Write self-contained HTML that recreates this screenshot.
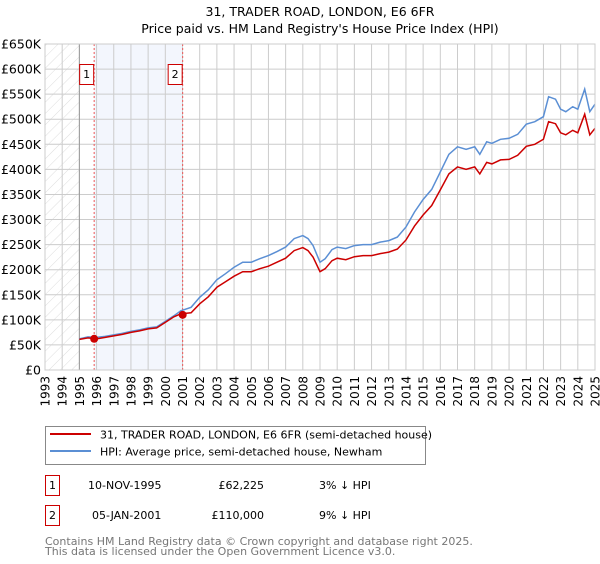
<!DOCTYPE html>
<html><head><meta charset="utf-8"><style>
body{margin:0;background:#fff;width:600px;height:560px;overflow:hidden;font-family:"DejaVu Sans","Liberation Sans",sans-serif}
svg text{font-family:"DejaVu Sans","Liberation Sans",sans-serif}
</style></head><body>
<svg id="c" width="600" height="560" viewBox="0 0 600 560">
<defs><pattern id="hatch" width="8" height="8" patternUnits="userSpaceOnUse" patternTransform="rotate(45)"><line x1="0" y1="0" x2="0" y2="8" stroke="#ddd" stroke-width="1"/></pattern></defs>
<text x="320" y="16" text-anchor="middle" font-size="12.5">31, TRADER ROAD, LONDON, E6 6FR</text>
<text x="320" y="33" text-anchor="middle" font-size="12.5">Price paid vs. HM Land Registry's House Price Index (HPI)</text>
<g id="plot"></g>
<g>
<rect x="45.5" y="426.5" width="380" height="38" fill="#fff" stroke="#888"/>
<line x1="50" y1="434" x2="91" y2="434" stroke="#cc0000" stroke-width="2"/>
<text x="100" y="438.5" font-size="11">31, TRADER ROAD, LONDON, E6 6FR (semi-detached house)</text>
<line x1="50" y1="451" x2="91" y2="451" stroke="#5b8fd4" stroke-width="2"/>
<text x="100" y="455.5" font-size="11">HPI: Average price, semi-detached house, Newham</text>
</g>
<g font-size="11">
<rect x="45.5" y="475.5" width="14" height="20" fill="#fff" stroke="#cc0000"/><text x="52.5" y="489" text-anchor="middle">1</text>
<text x="88" y="489">10-NOV-1995</text><text x="264" y="489" text-anchor="end">£62,225</text><text x="319" y="489">3% ↓ HPI</text>
<rect x="45.5" y="505.5" width="14" height="20" fill="#fff" stroke="#cc0000"/><text x="52.5" y="519" text-anchor="middle">2</text>
<text x="92" y="519">05-JAN-2001</text><text x="264" y="519" text-anchor="end">£110,000</text><text x="319" y="519">9% ↓ HPI</text>
</g>
<text x="45" y="545" font-size="11" fill="#777">Contains HM Land Registry data © Crown copyright and database right 2025.</text>
<text x="45" y="555" font-size="11" fill="#777">This data is licensed under the Open Government Licence v3.0.</text>
</svg>
<script>
const hpiYears=[1995,1995.5,1996,1996.5,1997,1997.5,1998,1998.5,1999,1999.5,2000,2000.5,2000.9,2001.5,2002,2002.5,2003,2003.5,2004,2004.5,2005,2005.5,2006,2006.5,2007,2007.5,2008,2008.3,2008.6,2009,2009.3,2009.7,2010,2010.5,2011,2011.5,2012,2012.5,2013,2013.5,2014,2014.5,2015,2015.5,2016,2016.5,2017,2017.5,2018,2018.3,2018.7,2019,2019.5,2020,2020.5,2021,2021.5,2022,2022.3,2022.7,2023,2023.3,2023.7,2024,2024.4,2024.7,2025];
const hpiValues=[62,66,65,67,70,73,77,80,84,86,97,108,118,125,145,160,180,192,205,215,215,222,228,236,245,262,268,262,248,215,222,240,245,242,248,250,250,255,258,265,285,315,340,360,395,430,445,440,445,430,455,452,460,462,470,490,495,505,545,540,520,515,525,520,560,515,530];
const priceValues=[61,64,62,65,68,71,75,78,82,84,95,106,112,114,132,146,165,176,187,196,196,202,207,215,223,238,244,238,225,196,202,218,223,220,226,228,228,232,235,241,259,287,309,328,359,391,405,400,405,391,414,411,419,420,428,446,450,460,495,491,473,469,478,473,510,469,482];
const salesYears=[1995.86,2001.01];
const salesValues=[62.225,110];
const yTicks=[0,50,100,150,200,250,300,350,400,450,500,550,600,650];
const yTickLabels=["£0","£50K","£100K","£150K","£200K","£250K","£300K","£350K","£400K","£450K","£500K","£550K","£600K","£650K"];
const xTicks=[1993,1994,1995,1996,1997,1998,1999,2000,2001,2002,2003,2004,2005,2006,2007,2008,2009,2010,2011,2012,2013,2014,2015,2016,2017,2018,2019,2020,2021,2022,2023,2024,2025];

const X0=45,X1=595,Y0=370,Y1=44;
const xs=v=>X0+(v-1993)/(2025-1993)*(X1-X0);
const ys=v=>Y0-v/650*(Y0-Y1);
const NS="http://www.w3.org/2000/svg";
const g=document.getElementById('plot');
function mk(t,a,p){const e=document.createElementNS(NS,t);for(const k in a)e.setAttribute(k,a[k]);(p||g).appendChild(e);return e;}
let e;
e=mk('rect',{x:X0,y:Y1,width:xs(1995)-X0,height:Y0-Y1,fill:'url(#hatch)'});


e=mk('rect',{x:xs(salesYears[0]),y:Y1,width:xs(salesYears[1])-xs(salesYears[0]),height:Y0-Y1,fill:'#f3f6fd'});


xTicks.forEach(t=>{
 e=mk('line',{x1:xs(t),y1:Y1,x2:xs(t),y2:Y0,stroke:'#ccc'});
 
 
 e=mk('text',{x:0,y:0,'font-size':12,'text-anchor':'end',transform:`translate(${xs(t)+4.5},${Y0+6}) rotate(-90)`});
 e.textContent=t;
 
 
});
yTicks.forEach((t,i)=>{
 e=mk('line',{x1:X0,y1:ys(t),x2:X1,y2:ys(t),stroke:'#ccc'});
 
 
 e=mk('text',{x:X0-4,y:ys(t)+4.5,'font-size':12.5,'text-anchor':'end'});
 e.textContent=yTickLabels[i];
 
 
});
e=mk('line',{x1:xs(1995),y1:Y1,x2:xs(1995),y2:Y0,stroke:'#999'});


salesYears.forEach((s,i)=>{
 e=mk('line',{x1:xs(s),y1:Y1,x2:xs(s),y2:Y0,stroke:'#ee5555','stroke-dasharray':'2,2'});
 
 
});
e=mk('path',{d:hpiYears.map((y,i)=>(i?'L':'M')+xs(y).toFixed(1)+','+ys(hpiValues[i]).toFixed(1)).join(''),fill:'none',stroke:'#5b8fd4','stroke-width':1.5});


e=mk('path',{d:hpiYears.map((y,i)=>(i?'L':'M')+xs(y).toFixed(1)+','+ys(priceValues[i]).toFixed(1)).join(''),fill:'none',stroke:'#cc0000','stroke-width':1.5});


salesYears.forEach((s,i)=>{
 e=mk('circle',{cx:xs(s),cy:ys(salesValues[i]),r:4,fill:'#cc0000'});
 
 
 e=mk('rect',{x:xs(s)-14.5,y:64.5,width:14,height:20,fill:'#fff',stroke:'#cc0000'});
 
 
 e=mk('text',{x:xs(s)-7.5,y:78,'font-size':11,'text-anchor':'middle'});
 e.textContent=String(i+1);
 
 
});
e=mk('rect',{x:X0,y:Y1,width:X1-X0,height:Y0-Y1,fill:'none',stroke:'#ccc'});


</script>
</body></html>
